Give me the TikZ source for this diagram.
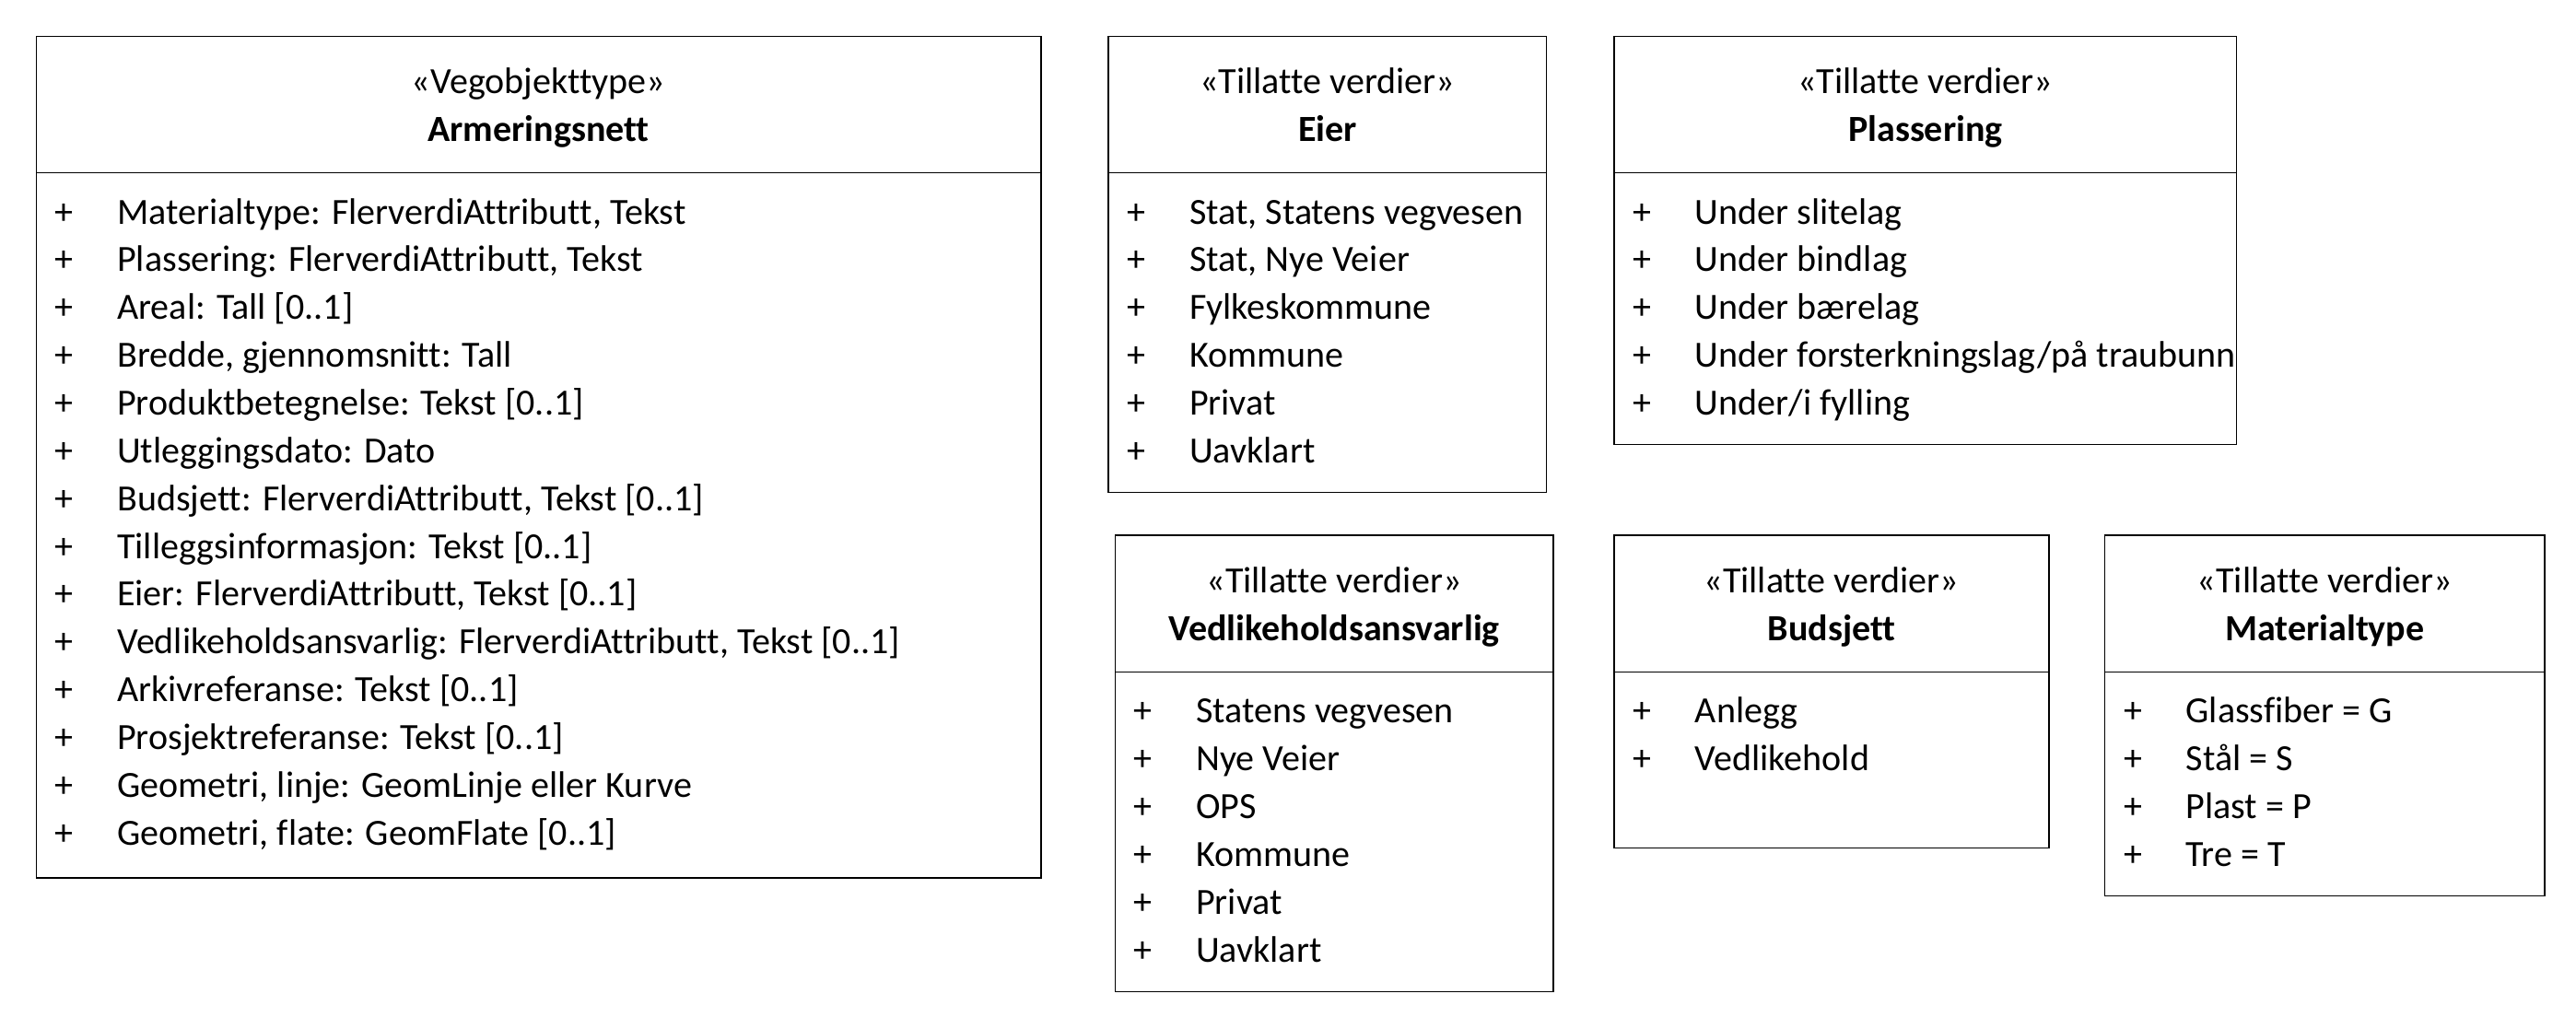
\documentclass[tikz,border=0pt]{standalone}
\usepackage{fontspec}
\setmainfont{Carlito}[Ligatures={NoCommon}]
\newcommand\umlbox[6]{% name, x1, y1, x2, y2, divider y
  \node[box, anchor=north west, minimum width=#4pt-#2pt, minimum height=#5pt-#3pt] (#1) at (#2,#3) {};
  \draw[box] (#2,#6) -- (#4,#6);
}
\newcommand\umlhead[6]{% name, x1, x2, y stereotype, stereotype, title
  \node[txt, anchor=base] (#1st) at ({(#2+#3)/2},#4+7) {«#5»};
  \node[txt, anchor=base, font=\fontsize{22.4}{26}\selectfont\bfseries] (#1ti) at ({(#2+#3)/2},#4+36) {#6};
}
\newcommand\umlrow[4]{% name, left x, y centre, text
  \node[txt, anchor=base] (#1p) at (#2+17,#3+7) {+};
  \node[txt, anchor=base west] (#1) at (#2+49,#3+7) {#4};
}
\begin{document}
\begin{tikzpicture}[x=1pt,y=-1pt,
  box/.style={draw=black, line width=0.8pt, inner sep=0pt, outer sep=0pt},
  txt/.style={font=\fontsize{22.4}{26}\selectfont, inner sep=0pt, text=black}]
\useasboundingbox (0,0) rectangle (1564,624.3);

% Armeringsnett
\umlbox{arm}{22}{22}{632}{533}{105}
\umlhead{arm}{22}{632}{50}{Vegobjekttype}{Armeringsnett}
\umlrow{arm1}{22}{129}{Materialtype: FlerverdiAttributt, Tekst}
\umlrow{arm2}{22}{158}{Plassering: FlerverdiAttributt, Tekst}
\umlrow{arm3}{22}{187}{Areal: Tall [0..1]}
\umlrow{arm4}{22}{216}{Bredde, gjennomsnitt: Tall}
\umlrow{arm5}{22}{245}{Produktbetegnelse: Tekst [0..1]}
\umlrow{arm6}{22}{274}{Utleggingsdato: Dato}
\umlrow{arm7}{22}{303}{Budsjett: FlerverdiAttributt, Tekst [0..1]}
\umlrow{arm8}{22}{332}{Tilleggsinformasjon: Tekst [0..1]}
\umlrow{arm9}{22}{361}{Eier: FlerverdiAttributt, Tekst [0..1]}
\umlrow{arm10}{22}{390}{Vedlikeholdsansvarlig: FlerverdiAttributt, Tekst [0..1]}
\umlrow{arm11}{22}{419}{Arkivreferanse: Tekst [0..1]}
\umlrow{arm12}{22}{448}{Prosjektreferanse: Tekst [0..1]}
\umlrow{arm13}{22}{477}{Geometri, linje: GeomLinje eller Kurve}
\umlrow{arm14}{22}{506}{Geometri, flate: GeomFlate [0..1]}

% Eier
\umlbox{eier}{673}{22}{939}{299}{105}
\umlhead{eier}{673}{939}{50}{Tillatte verdier}{Eier}
\umlrow{eier1}{673}{129}{Stat, Statens vegvesen}
\umlrow{eier2}{673}{158}{Stat, Nye Veier}
\umlrow{eier3}{673}{187}{Fylkeskommune}
\umlrow{eier4}{673}{216}{Kommune}
\umlrow{eier5}{673}{245}{Privat}
\umlrow{eier6}{673}{274}{Uavklart}

% Plassering
\umlbox{pl}{980}{22}{1358}{270}{105}
\umlhead{pl}{980}{1358}{50}{Tillatte verdier}{Plassering}
\umlrow{pl1}{980}{129}{Under slitelag}
\umlrow{pl2}{980}{158}{Under bindlag}
\umlrow{pl3}{980}{187}{Under bærelag}
\umlrow{pl4}{980}{216}{Under forsterkningslag/på traubunn}
\umlrow{pl5}{980}{245}{Under/i fylling}

% Vedlikeholdsansvarlig
\umlbox{ved}{677}{325}{943}{602}{408}
\umlhead{ved}{677}{943}{353}{Tillatte verdier}{Vedlikeholdsansvarlig}
\umlrow{ved1}{677}{432}{Statens vegvesen}
\umlrow{ved2}{677}{461}{Nye Veier}
\umlrow{ved3}{677}{490}{OPS}
\umlrow{ved4}{677}{519}{Kommune}
\umlrow{ved5}{677}{548}{Privat}
\umlrow{ved6}{677}{577}{Uavklart}

% Budsjett
\umlbox{bud}{980}{325}{1244}{515}{408}
\umlhead{bud}{980}{1244}{353}{Tillatte verdier}{Budsjett}
\umlrow{bud1}{980}{432}{Anlegg}
\umlrow{bud2}{980}{461}{Vedlikehold}

% Materialtype
\umlbox{mat}{1278}{325}{1545}{544}{408}
\umlhead{mat}{1278}{1545}{353}{Tillatte verdier}{Materialtype}
\umlrow{mat1}{1278}{432}{Glassfiber = G}
\umlrow{mat2}{1278}{461}{Stål = S}
\umlrow{mat3}{1278}{490}{Plast = P}
\umlrow{mat4}{1278}{519}{Tre = T}
\end{tikzpicture}
\end{document}
